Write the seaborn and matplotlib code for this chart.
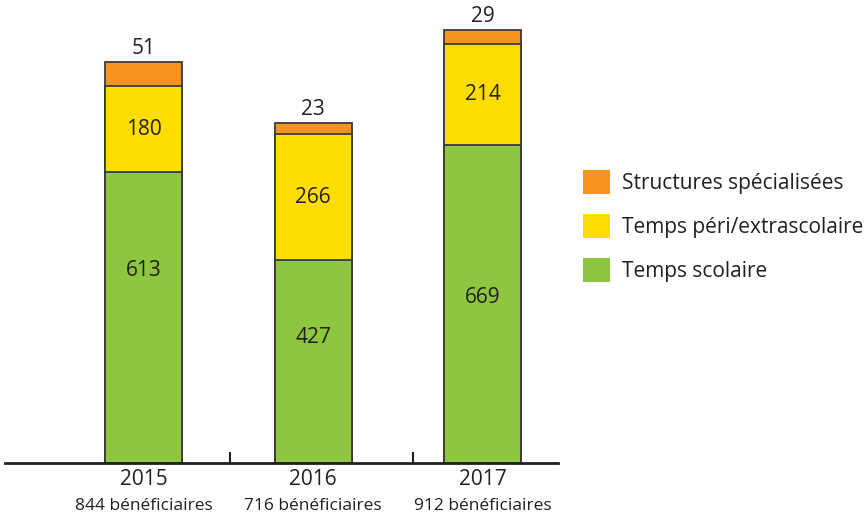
import seaborn as sns
import matplotlib.pyplot as plt
import matplotlib.patches as mpatches
import pandas as pd

years = ["2015", "2016", "2017"]
beneficiaires = ["844 bénéficiaires", "716 bénéficiaires", "912 bénéficiaires"]
scolaire = [613, 427, 669]
periscolaire = [180, 266, 214]
specialisees = [51, 23, 29]
series_names = ["Structures spécialisées", "Temps péri/extrascolaire", "Temps scolaire"]
colors = ["#F7941D", "#FFDD00", "#8DC63F"]

# where the green labels sit inside their segment (fraction of the segment height)
scol_label_frac = [0.66, 0.62, 0.52]

sns.set_theme(style="white")
plt.rcParams["font.family"] = ["Open Sans", "DejaVu Sans"]
txt = "#231F20"
edge = "#3a3a3a"

df = pd.DataFrame({"annee": years, "scol": scolaire, "peri": periscolaire, "spec": specialisees})
df["h_peri"] = df["scol"] + df["peri"]
df["h_spec"] = df["h_peri"] + df["spec"]

fig = plt.figure(figsize=(8.67, 5.17), dpi=100)
ax = fig.add_axes([5 / 867, 54 / 517, 553 / 867, 463 / 517])

# stacked: draw cumulative heights from top segment down
for col, c in zip(["h_spec", "h_peri", "scol"], colors):
    sns.barplot(data=df, x="annee", y=col, order=years, color=c, width=0.454,
                edgecolor=edge, linewidth=1.3, saturation=1, ax=ax)

ax.set_xlim(-0.817, 2.445)
ax.set_ylim(0, 975)
ax.set_xlabel("")
ax.set_ylabel("")
ax.set_yticks([])
for s in ["left", "right", "top"]:
    ax.spines[s].set_visible(False)
ax.spines["bottom"].set_color(txt)
ax.spines["bottom"].set_linewidth(2)

# value labels
for i in range(len(years)):
    ax.text(i, scolaire[i] * scol_label_frac[i], str(scolaire[i]), ha="center", va="center",
            fontsize=15, color=txt)
    ax.text(i, scolaire[i] + periscolaire[i] / 2, str(periscolaire[i]), ha="center", va="center",
            fontsize=15, color=txt)
    ax.annotate(str(specialisees[i]), (i, df["h_spec"][i]), xytext=(0, 10), textcoords="offset points",
                ha="center", va="center", fontsize=15, color=txt)

# x labels
ax.set_xticks(range(len(years)))
ax.set_xticklabels(years, fontsize=15, color=txt)
ax.tick_params(axis="x", which="major", length=0, pad=4)
ax.set_xticks([0.513, 1.59], minor=True)
ax.tick_params(axis="x", which="minor", bottom=True, direction="in", length=8, width=1.5, color=txt)
for i, b in enumerate(beneficiaires):
    ax.annotate(b, (i, 0), xytext=(0, -31), textcoords="offset points", ha="center", va="center",
                fontsize=12.5, color=txt)

handles = [mpatches.Patch(facecolor=c, edgecolor="none") for c in colors]
fig.legend(handles, series_names, loc="upper left", bbox_to_anchor=(577 / 867, 1 - 164 / 517),
           frameon=False, fontsize=15, handlelength=1.3, handleheight=1.4, handletextpad=0.55,
           labelspacing=0.95, labelcolor=txt, borderaxespad=0, borderpad=0.3)

fig.savefig("out.png", dpi=100)
